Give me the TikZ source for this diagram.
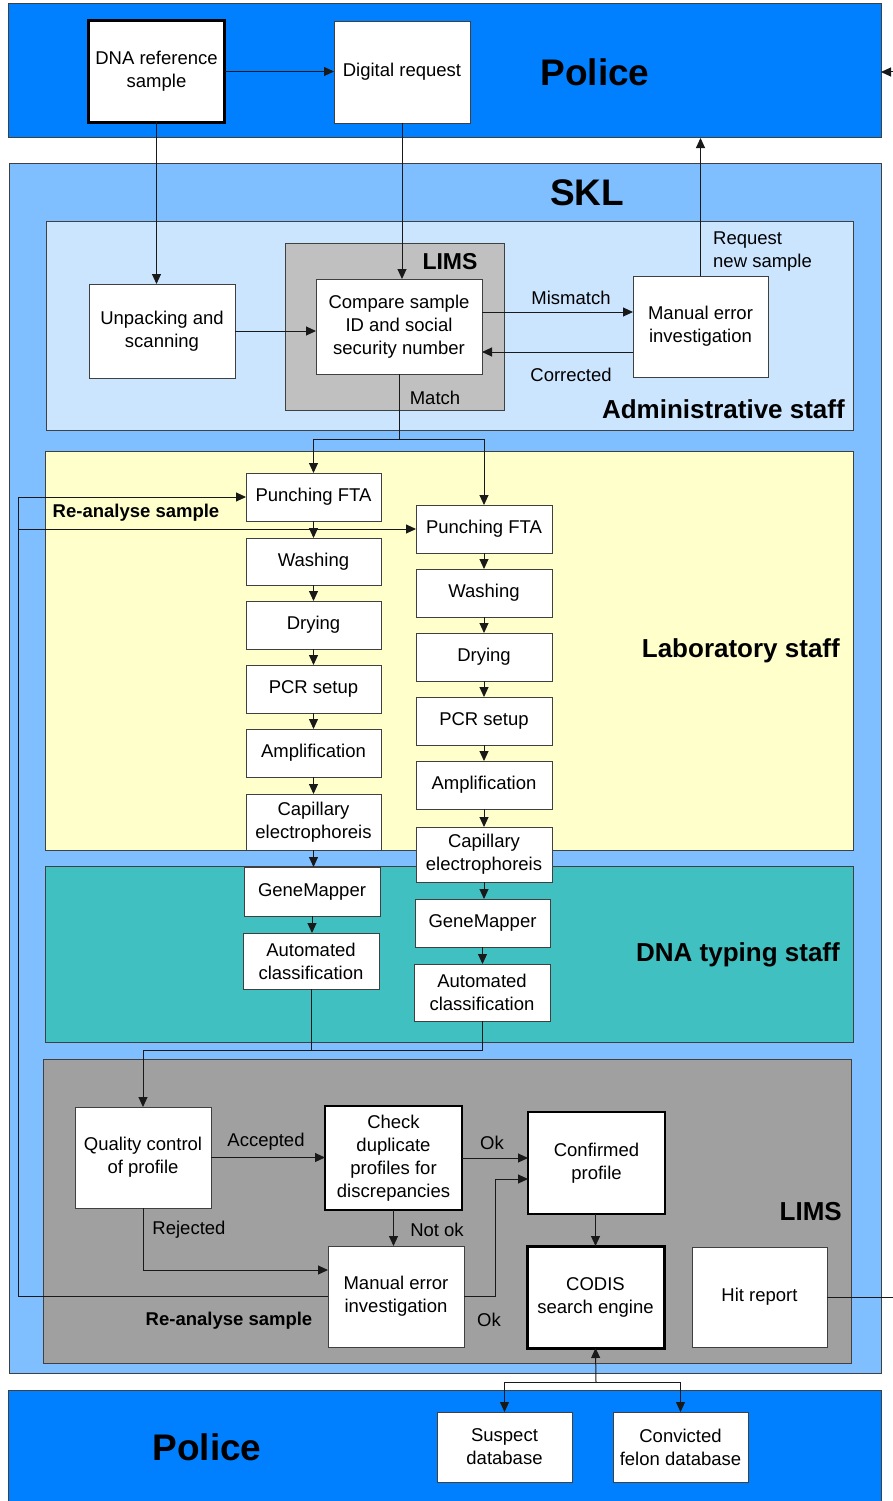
\documentclass[tikz,border=0pt]{standalone}
\usepackage{fontspec}
\setmainfont{Liberation Sans}
\usetikzlibrary{arrows.meta}
\definecolor{policeblue}{HTML}{0080FF}
\definecolor{sklblue}{HTML}{80BFFF}
\definecolor{adminblue}{HTML}{CCE5FF}
\definecolor{limsgrayA}{HTML}{C0C0C0}
\definecolor{labyellow}{HTML}{FFFFCC}
\definecolor{typingteal}{HTML}{40C0C0}
\definecolor{limsgrayB}{HTML}{A0A0A0}
\definecolor{edgegray}{HTML}{404040}
\begin{document}
\begin{tikzpicture}[x=1pt,y=-1pt,
  region/.style={draw=edgegray, line width=1pt, anchor=north west, inner sep=0pt, outer sep=0pt},
  box/.style={draw=edgegray, line width=0.9pt, fill=white, align=center, inner sep=1pt, outer sep=0pt, font=\fontsize{18.5}{23}\selectfont},
  heavybox/.style={box, draw=black, line width=#1},
  arr/.style={draw=black!90, line width=1pt, -{Triangle[length=10pt,width=9pt]}},
  conn/.style={draw=black!90, line width=1pt},
  lbl/.style={font=\fontsize{18.5}{23}\selectfont, inner sep=0pt, align=center},
  blbl/.style={font=\bfseries\fontsize{18.5}{23}\selectfont, inner sep=0pt},
  title/.style={font=\bfseries\fontsize{26}{30}\selectfont, inner sep=0pt},
  bigtitle/.style={font=\bfseries\fontsize{37}{42}\selectfont, inner sep=0pt},
]
\useasboundingbox (0,0) rectangle (893,1501);
\clip (0,0) rectangle (893,1501);

% regions
\node[region, fill=policeblue, minimum width=873pt, minimum height=134pt] (pol) at (8,4) {};
\node[region, fill=sklblue, minimum width=872pt, minimum height=1210pt] (skl) at (9,163) {};
\node[region, fill=adminblue, minimum width=807pt, minimum height=209pt] (adm) at (46,221) {};
\node[region, fill=limsgrayA, minimum width=219pt, minimum height=167pt] (limsa) at (285,243) {};
\node[region, fill=labyellow, minimum width=808pt, minimum height=399pt] (lab) at (45,451) {};
\node[region, fill=typingteal, minimum width=808pt, minimum height=176pt] (typ) at (45,866) {};
\node[region, fill=limsgrayB, minimum width=808pt, minimum height=304pt] (limsb) at (43,1059) {};
\node[region, fill=policeblue, minimum width=873pt, minimum height=140pt] (pol2) at (8,1390) {};

% region titles
\node[bigtitle] (tpol) at (595,72) {Police};
\node[bigtitle] (tskl) at (587,193) {SKL};
\node[font=\bfseries\fontsize{23}{27}\selectfont, inner sep=0pt] (tlimsa) at (450,262) {LIMS};
\node[title, anchor=east] (tadm) at (845,409) {Administrative staff};
\node[title, anchor=east] (tlab) at (840,651) {Laboratory staff};
\node[title, anchor=east] (ttyp) at (840,955) {DNA typing staff};
\node[title, anchor=east] (tlimsb) at (842,1212) {LIMS};
\node[bigtitle] (tpol2) at (207,1447) {Police};

% top police boxes
\node[heavybox=3.5pt, minimum width=136pt, minimum height=102pt] (dna) at (156.5,71.5) {DNA reference\\sample};
\node[box, minimum width=136pt, minimum height=102pt] (dig) at (402,72) {Digital request};

% administrative
\node[box, minimum width=146pt, minimum height=94pt] (unp) at (162,331) {Unpacking and\\scanning};
\node[box, minimum width=166pt, minimum height=95pt] (cmp) at (399,326.5) {Compare sample\\ID and social\\security number};
\node[box, minimum width=135pt, minimum height=101pt] (mei1) at (700.5,326.5) {Manual error\\investigation};

% laboratory, left column
\node[box, minimum width=135pt, minimum height=48pt] (pf1) at (313.5,497) {Punching FTA};
\node[box, minimum width=135pt, minimum height=47pt] (wa1) at (313.5,561.5) {Washing};
\node[box, minimum width=135pt, minimum height=48pt] (dr1) at (313.5,625) {Drying};
\node[box, minimum width=135pt, minimum height=48pt] (pcr1) at (313.5,689) {PCR setup};
\node[box, minimum width=135pt, minimum height=48pt] (amp1) at (313.5,753) {Amplification};
\node[box, minimum width=135pt, minimum height=56pt] (cap1) at (313.5,822) {Capillary\\electrophoreis};
% laboratory, right column
\node[box, minimum width=136pt, minimum height=48pt] (pf2) at (484,529) {Punching FTA};
\node[box, minimum width=136pt, minimum height=48pt] (wa2) at (484,593) {Washing};
\node[box, minimum width=136pt, minimum height=48pt] (dr2) at (484,657) {Drying};
\node[box, minimum width=136pt, minimum height=48pt] (pcr2) at (484,721) {PCR setup};
\node[box, minimum width=136pt, minimum height=48pt] (amp2) at (484,785) {Amplification};
\node[box, minimum width=136pt, minimum height=55pt] (cap2) at (484,854.5) {Capillary\\electrophoreis};

% DNA typing
\node[box, minimum width=136pt, minimum height=49pt] (gm1) at (312,891.5) {GeneMapper};
\node[box, minimum width=136pt, minimum height=56pt] (ac1) at (311,961) {Automated\\classification};
\node[box, minimum width=135pt, minimum height=48pt] (gm2) at (482.5,923) {GeneMapper};
\node[box, minimum width=136pt, minimum height=57pt] (ac2) at (482,992.5) {Automated\\classification};

% LIMS bottom
\node[box, minimum width=136pt, minimum height=101pt] (qc) at (143,1157.5) {Quality control\\of profile};
\node[heavybox=2.5pt, minimum width=137pt, minimum height=104pt] (chk) at (393.5,1158) {Check\\duplicate\\profiles for\\discrepancies};
\node[heavybox=2pt, minimum width=137pt, minimum height=102pt] (conf) at (596.5,1163) {Confirmed\\profile};
\node[box, minimum width=136pt, minimum height=101pt] (mei2) at (396,1296.5) {Manual error\\investigation};
\node[heavybox=3pt, minimum width=137pt, minimum height=102pt] (codis) at (595.5,1297) {CODIS\\search engine};
\node[box, minimum width=135pt, minimum height=100pt] (hit) at (759.5,1297) {Hit report};

% bottom police
\node[box, minimum width=135pt, minimum height=70pt] (sus) at (504.5,1447) {Suspect\\database};
\node[box, minimum width=135pt, minimum height=70pt] (conv) at (680.5,1447) {Convicted\\felon database};

% coordinates
\coordinate (msplit) at (399,439);
\coordinate (join) at (311,1050);
\coordinate (rtop) at (18,497);
\coordinate (rmid) at (18,529);
\coordinate (hitend) at (893,1297);
\coordinate (retstart) at (893,72);
\coordinate (dbsplit) at (596,1382);

% connectors: top
\draw[arr] (dna.east) -- (dna.east -| dig.west);
\draw[arr] (dna.south) -- (dna.south |- unp.north);
\draw[arr] (dig.south) -- (dig.south |- cmp.north);
\draw[arr] (retstart) -- (retstart -| pol.east);
\draw[arr] (mei1.north) -- (mei1.north |- pol.south);

% administrative
\draw[arr] (unp.east) -- (unp.east -| cmp.west);
\draw[arr] ([yshift=14.5pt]cmp.east) -- ([yshift=14.5pt]cmp.east -| mei1.west);
\draw[arr] ([yshift=-25.5pt]mei1.west) -- ([yshift=-25.5pt]mei1.west -| cmp.east);
\draw[conn] (cmp.south) -- (msplit);
\draw[arr] (msplit) -| (pf1.north);
\draw[arr] (msplit) -| (pf2.north);
\node[lbl] (lmis) at (571,298) {Mismatch};
\node[lbl] (lcor) at (571,375) {Corrected};
\node[lbl] (lmat) at (435,398) {Match};
\node[lbl, anchor=west, align=left] (lreq) at (713,251.5) {Request\\new sample};

% laboratory chains
\foreach \a/\b in {pf1/wa1, wa1/dr1, dr1/pcr1, pcr1/amp1, amp1/cap1, cap1/gm1, gm1/ac1,
                   pf2/wa2, wa2/dr2, dr2/pcr2, pcr2/amp2, amp2/cap2, cap2/gm2, gm2/ac2}
  \draw[arr] (\a.south) -- (\a.south |- \b.north);

% re-analyse loop
\draw[arr] (mei2.west) -| (rtop) -- (pf1.west);
\draw[arr] (rmid) -- (pf2.west);
\node[blbl] (lre1) at (136,513) {Re-analyse sample};
\node[blbl] (lre2) at (229,1321) {Re-analyse sample};

% typing to LIMS
\draw[conn] (ac1.south) -- (join);
\draw[conn] (ac2.south) -- (ac2.south |- join) -- (join);
\draw[arr] (join) -| (qc.north);

% LIMS bottom
\draw[arr] (qc.east) -- (qc.east -| chk.west);
\draw[arr] (chk.east) -- (chk.east -| conf.west);
\draw[arr] (chk.south) -- (chk.south |- mei2.north);
\draw[arr] (qc.south) |- ([yshift=26.5pt]mei2.west);
\draw[arr] (mei2.east) -- ++(31,0) |- ([yshift=-16pt]conf.west);
\draw[arr] (conf.south -| codis.north) -- (codis.north);
\draw[conn] (hit.east) -- (hitend);
\node[lbl] (lacc) at (266,1142) {Accepted};
\node[lbl] (lok1) at (492,1143) {Ok};
\node[lbl] (lnok) at (437,1230) {Not ok};
\node[lbl] (lrej) at (189,1230) {Rejected};
\node[lbl] (lok2) at (489,1320) {Ok};

% databases
\draw[arr] (dbsplit) -- (codis.south);
\draw[arr] (dbsplit) -| (sus.north);
\draw[arr] (dbsplit) -| (conv.north);
\end{tikzpicture}
\end{document}
